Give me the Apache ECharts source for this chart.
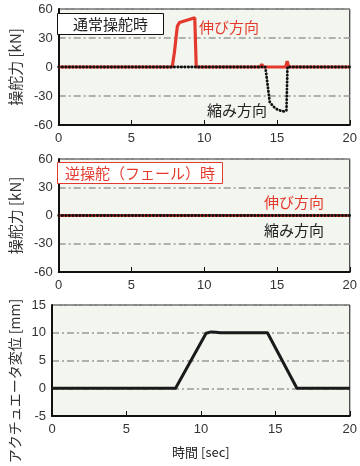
<!DOCTYPE html>
<html><head><meta charset="utf-8">
<script src="https://cdn.jsdelivr.net/npm/echarts@6/dist/echarts.min.js"></script>
<style>html,body{margin:0;padding:0;background:#fff}#c{width:360px;height:466px}</style>
</head><body><div id="c"></div>
<script>
// ---- data ----
const timeTicks = [0, 5, 10, 15, 20];
const forceTicks = [-60, -30, 0, 30, 60];
const dispTicks = [-5, 0, 5, 10, 15];

// Panel 1: normal steering
const normalExtT = [0, 7.8, 7.95, 8.15, 8.3, 9.35, 9.45, 13.85, 13.95, 14.05, 15.6, 15.7, 15.8, 20];
const normalExtV = [0, 0, 15, 42, 46, 51, 0, 0, 3, 0, 0, 6, 0, 0];
const normalConT = [0, 14.2, 14.35, 14.5, 14.7, 14.9, 15.2, 15.5, 15.65, 15.72, 20];
const normalConV = [0, 0, -18, -36, -40, -43, -45, -46, -45, 0, 0];

// Panel 2: reverse steering (fail)
const failExtT = [0, 5, 10, 15, 20];
const failExtV = [0, 0, 0, 0, 0];
const failConT = [0, 5, 10, 15, 20];
const failConV = [0, 0, 0, 0, 0];

// Panel 3: actuator displacement
const dispT = [0, 8.3, 10.35, 10.7, 11.0, 11.3, 14.47, 16.45, 20];
const dispV = [0, 0, 9.9, 10.15, 10.1, 10.0, 10.0, 0, 0];

const zip = (a, b) => a.map((t, i) => [t, b[i]]);

// ---- styles ----
const RED = '#e43a2d';
const BG = '#f2f6ef';
const CJK = '"Noto Sans CJK JP", sans-serif';
const NUM = '"Liberation Sans", Arial, sans-serif';

const grids = [
  {left: 52, top: 9, width: 300, height: 116},
  {left: 52, top: 159, width: 300, height: 113},
  {left: 52, top: 305, width: 300, height: 111}
].map(g => Object.assign(g, {show: true, backgroundColor: BG, borderColor: '#111', borderWidth: 1}));

function xAx(i, extra) {
  return Object.assign({
    type: 'value', gridIndex: i, min: timeTicks[0], max: timeTicks[timeTicks.length - 1], interval: 5,
    axisLine: {show: true, onZero: false, lineStyle: {color: '#111', width: 2}},
    axisTick: {show: true, inside: true, length: 5, lineStyle: {color: '#111', width: 1}},
    axisLabel: {fontFamily: NUM, fontSize: 13, color: '#333', margin: 7},
    splitLine: {show: false}
  }, extra || {});
}
function yAx(i, ticks, extra) {
  return Object.assign({
    type: 'value', gridIndex: i, min: ticks[0], max: ticks[ticks.length - 1], interval: ticks[1] - ticks[0],
    axisLine: {show: true, onZero: false, lineStyle: {color: '#111', width: 2}},
    axisTick: {show: false},
    axisLabel: {fontFamily: NUM, fontSize: 13, color: '#333', margin: 6},
    splitLine: {show: true, lineStyle: {color: '#9a9a9a', width: 1.5, type: [7, 3, 2, 3]}}
  }, extra || {});
}
const yName = {
  name: '操舵力 [kN]', nameLocation: 'middle', nameGap: 29, nameRotate: 90,
  nameTextStyle: {fontFamily: CJK, fontSize: 15, color: '#333'}
};

const dotted = {color: '#111', width: 2.8, type: [0.4, 3.1], cap: 'round'};

const option = {
  animation: false,
  grid: grids,
  xAxis: [xAx(0), xAx(1), xAx(2, {
    name: '時間 [sec]', nameLocation: 'middle', nameGap: 30,
    nameTextStyle: {fontFamily: CJK, fontSize: 13, color: '#222'}
  })],
  yAxis: [yAx(0, forceTicks, yName), yAx(1, forceTicks, yName), yAx(2, dispTicks)],
  series: [
    {type: 'line', xAxisIndex: 0, yAxisIndex: 0, data: zip(normalExtT, normalExtV), showSymbol: false,
      lineStyle: {color: RED, width: 3.2}, z: 3},
    {type: 'line', xAxisIndex: 0, yAxisIndex: 0, data: zip(normalConT, normalConV), showSymbol: false,
      lineStyle: dotted, z: 4},
    {type: 'line', xAxisIndex: 1, yAxisIndex: 1, data: zip(failExtT, failExtV), showSymbol: false,
      lineStyle: {color: RED, width: 3.2}, z: 3},
    {type: 'line', xAxisIndex: 1, yAxisIndex: 1, data: zip(failConT, failConV), showSymbol: false,
      lineStyle: dotted, z: 4},
    {type: 'line', xAxisIndex: 2, yAxisIndex: 2, data: zip(dispT, dispV), showSymbol: false,
      lineStyle: {color: '#1a1a1a', width: 3}, z: 3}
  ],
  graphic: [
    {type: 'rect', shape: {x: 57.5, y: 13.5, width: 106, height: 21}, style: {fill: '#fff', stroke: '#111', lineWidth: 1}, z: 10},
    {type: 'text', x: 110.5, y: 24, style: {text: '通常操舵時', font: '15px ' + CJK, fill: '#222', align: 'center', verticalAlign: 'middle'}, z: 11},
    {type: 'text', x: 199, y: 27, style: {text: '伸び方向', font: '15px ' + CJK, fill: RED, align: 'left', verticalAlign: 'middle'}, z: 11},
    {type: 'text', x: 207, y: 110, style: {text: '縮み方向', font: '15px ' + CJK, fill: '#222', align: 'left', verticalAlign: 'middle'}, z: 11},
    {type: 'rect', shape: {x: 57.5, y: 162.5, width: 165, height: 21}, style: {fill: '#fff', stroke: RED, lineWidth: 1}, z: 10},
    {type: 'text', x: 140, y: 173, style: {text: '逆操舵（フェール）時', font: '15px ' + CJK, fill: RED, align: 'center', verticalAlign: 'middle'}, z: 11},
    {type: 'text', x: 264, y: 202, style: {text: '伸び方向', font: '15px ' + CJK, fill: RED, align: 'left', verticalAlign: 'middle'}, z: 11},
    {type: 'text', x: 264, y: 230, style: {text: '縮み方向', font: '15px ' + CJK, fill: '#222', align: 'left', verticalAlign: 'middle'}, z: 11},
    {type: 'text', x: 15, y: 381, rotation: Math.PI / 2, style: {text: 'アクチュエータ変位 [mm]', font: '14px ' + CJK, fill: '#333', align: 'center', verticalAlign: 'middle'}, z: 11}
  ]
};
echarts.init(document.getElementById('c'), null, {renderer: 'canvas'}).setOption(option);
</script>
</body></html>
